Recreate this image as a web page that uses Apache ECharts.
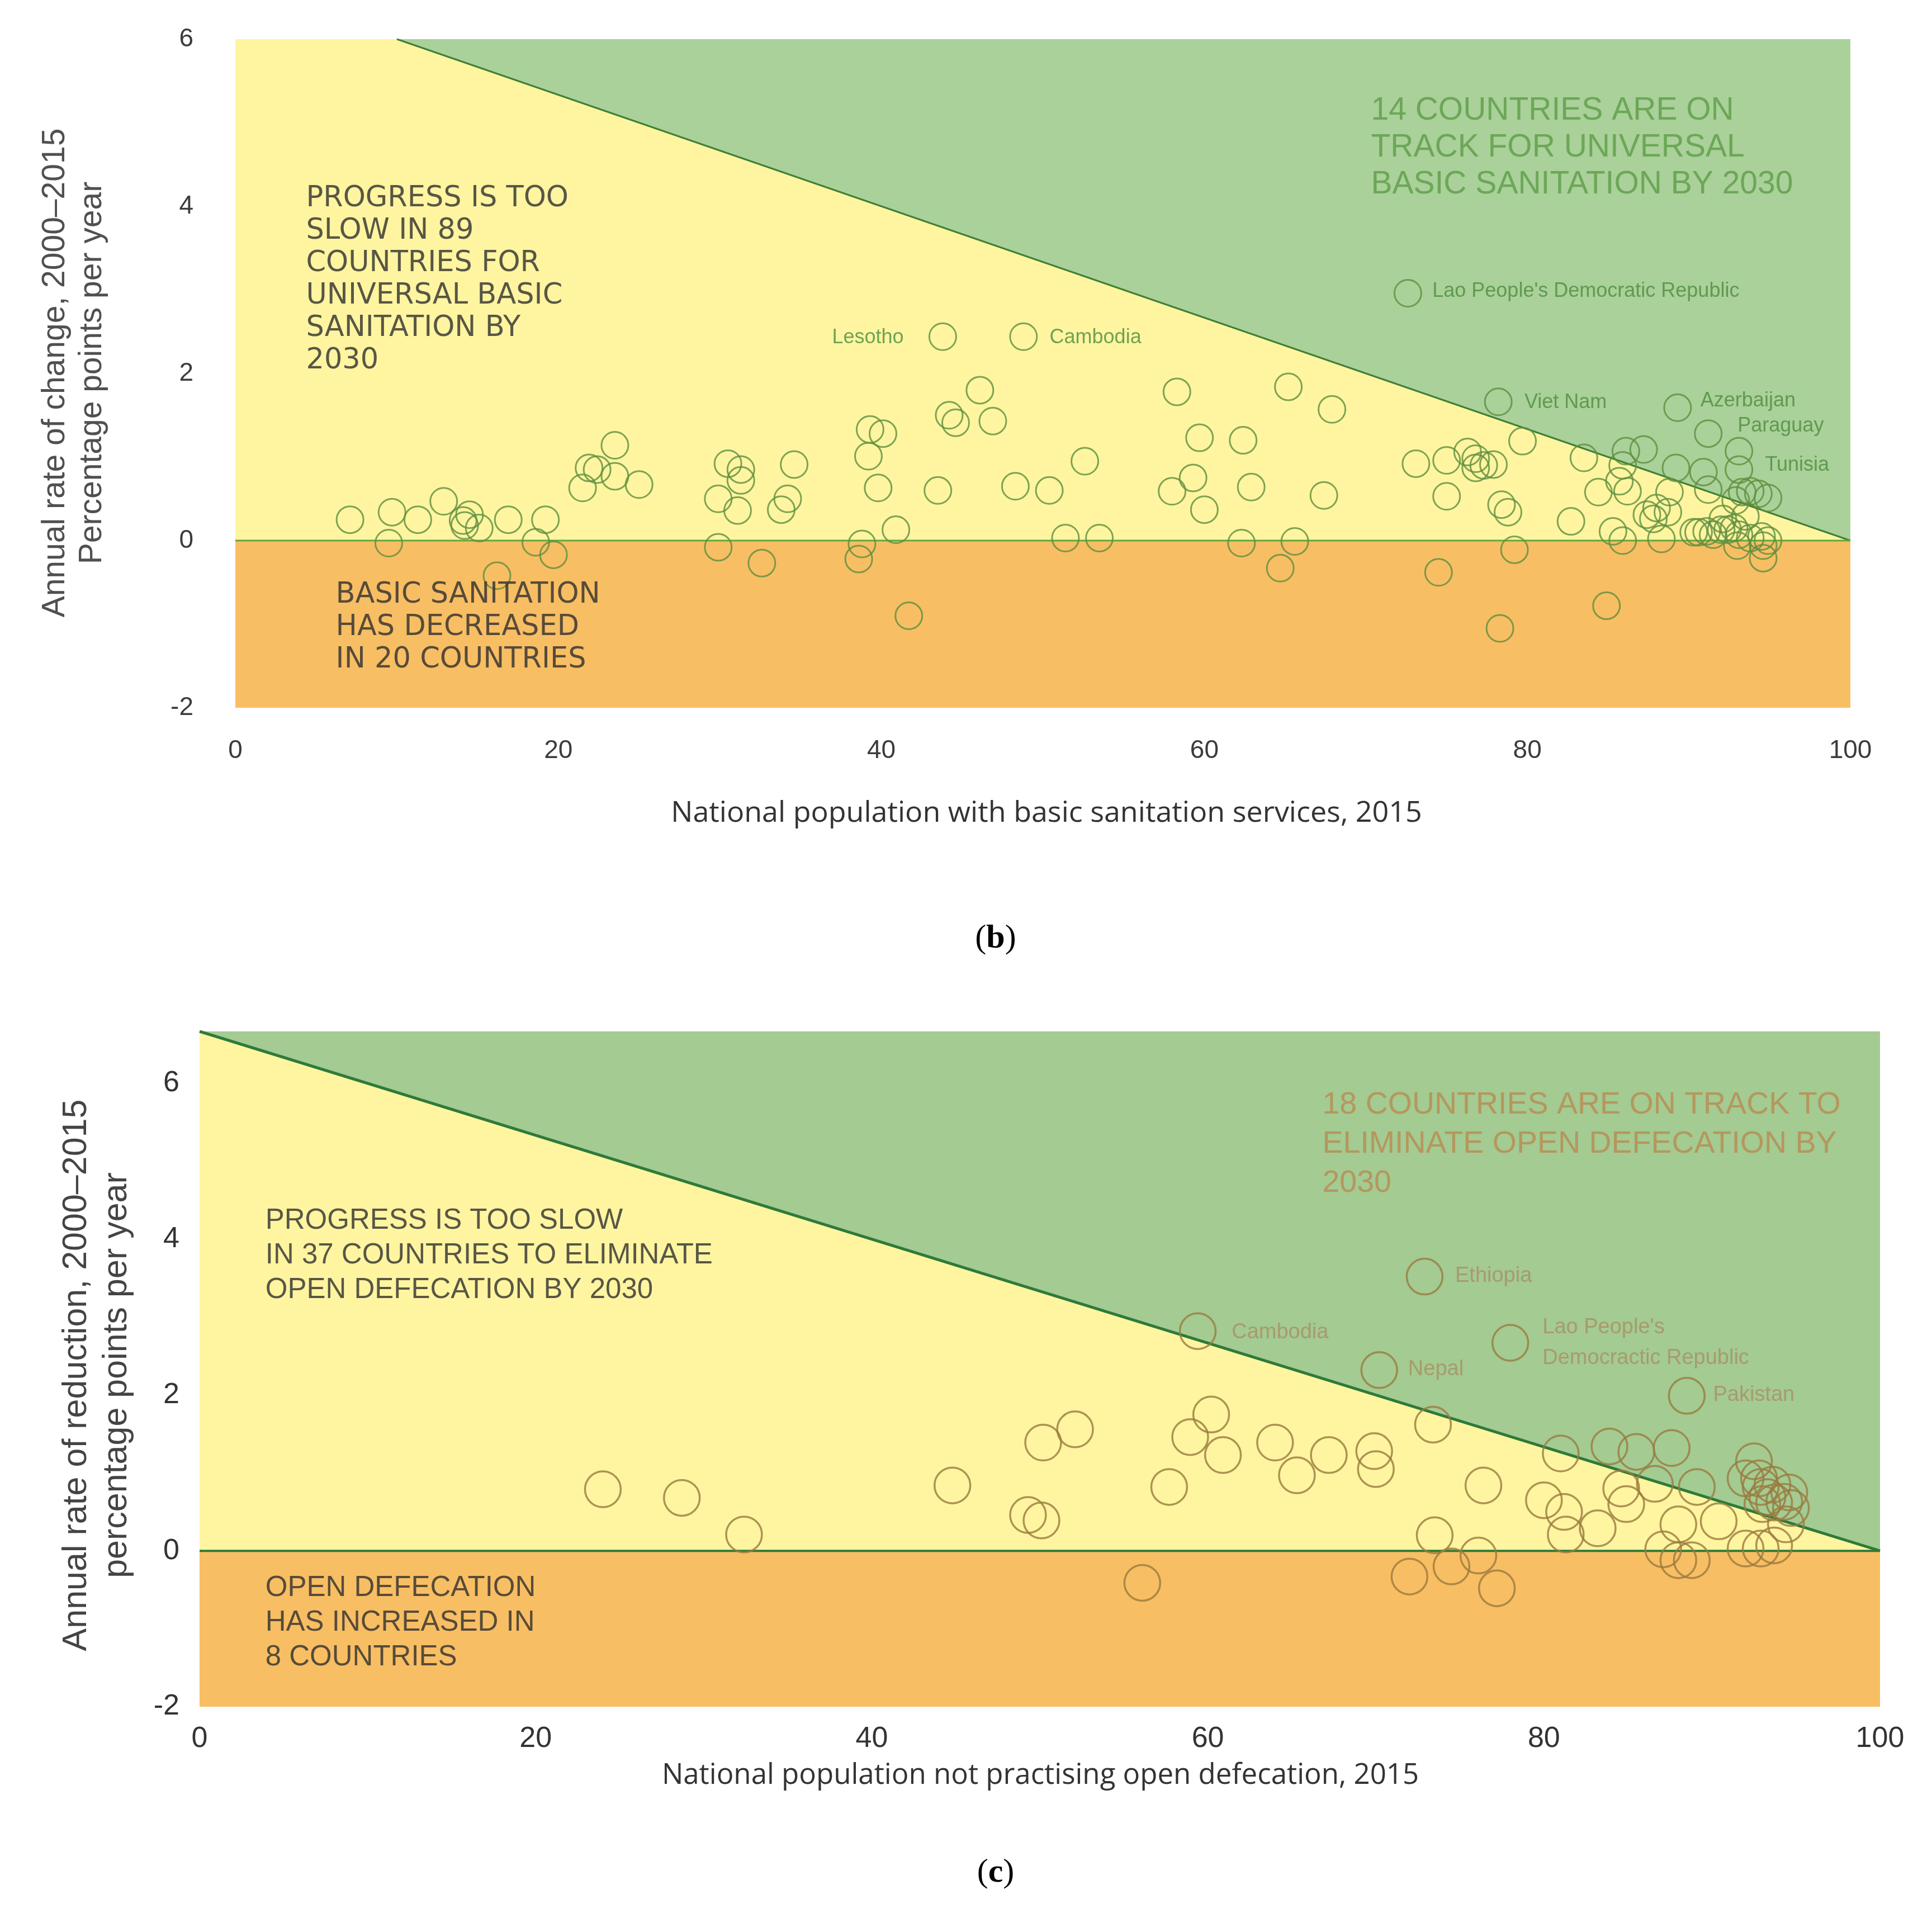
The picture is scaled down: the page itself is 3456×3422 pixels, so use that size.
<!DOCTYPE html>
<html>
<head>
<meta charset="utf-8">
<script src="https://cdn.jsdelivr.net/npm/echarts@6/dist/echarts.min.js"></script>
<style>html,body{margin:0;padding:0;background:#fff}#c{width:3456px;height:3422px}</style>
</head>
<body>
<div id="c"></div>
<script>
// ---------- DATA ----------
const xTicks = [0, 20, 40, 60, 80, 100];
const yTicks = [-2, 0, 2, 4, 6];
// (b) basic sanitation coverage 2015 (x) vs annual rate of change (y)
const basicSanitation = [
  [7.1,0.25],[9.7,0.34],[9.5,-0.03],[11.3,0.25],[12.9,0.47],[14.1,0.24],[14.5,0.31],[14.2,0.18],[15.1,0.15],
  [16.9,0.25],[19.2,0.25],[18.6,-0.02],[19.7,-0.17],[16.2,-0.42],[21.5,0.63],[21.9,0.87],[22.4,0.85],[23.5,1.14],
  [23.5,0.77],[25.0,0.67],[30.5,0.92],[31.3,0.85],[31.3,0.72],[29.9,0.5],[31.1,0.36],[34.6,0.91],[34.2,0.5],
  [33.8,0.37],[29.9,-0.08],[32.6,-0.27],[39.3,1.33],[40.1,1.28],[39.2,1.01],[39.8,0.63],[40.9,0.13],[38.8,-0.04],
  [38.6,-0.22],[41.7,-0.9],
  [43.8,2.44],[48.8,2.44],[46.1,1.8],[44.2,1.5],[44.6,1.41],[46.9,1.43],[43.5,0.6],[48.3,0.65],[50.4,0.6],
  [52.6,0.95],[51.4,0.03],[53.5,0.03],[58.3,1.78],[59.7,1.23],[62.4,1.2],[59.3,0.75],[58.0,0.59],[60.0,0.37],
  [62.9,0.64],[62.3,-0.03],[65.6,-0.01],[64.7,-0.33],[65.2,1.84],[67.9,1.57],[67.4,0.54],[73.1,0.92],[75.0,0.96],
  [75.0,0.53],[74.5,-0.38],[72.6,2.96],
  [78.2,1.66],[89.3,1.59],[91.2,1.28],[93.1,1.07],[93.1,0.85],[79.7,1.19],[76.3,1.06],[76.8,0.98],[77.3,0.9],
  [76.8,0.87],[77.9,0.91],[78.4,0.43],[78.8,0.34],[82.7,0.23],[83.5,0.99],[84.4,0.58],[86.1,1.07],[87.2,1.09],
  [85.9,0.9],[85.7,0.71],[86.2,0.59],[85.3,0.11],[85.9,0.0],[89.2,0.87],[88.8,0.58],[88.0,0.39],[87.4,0.31],
  [87.8,0.26],[88.7,0.34],[88.3,0.02],[90.9,0.82],[91.2,0.61],[93.3,0.58],[93.8,0.59],[94.3,0.56],[94.9,0.51],
  [92.9,0.48],[93.5,0.29],[92.1,0.26],[92.0,0.13],[90.3,0.1],[90.6,0.1],[91.1,0.11],[91.5,0.07],[92.4,0.13],
  [92.8,0.15],[93.1,0.07],[93.8,0.03],[94.5,0.05],[94.9,0.0],[93.0,-0.06],[94.6,-0.06],[94.6,-0.21],[79.2,-0.11],
  [84.9,-0.78],[78.3,-1.05]
];
// (c) population not practising open defecation 2015 (x) vs annual rate of reduction (y)
const openDefecation = [
  [24.0,0.79],[28.7,0.68],[32.4,0.21],[44.8,0.84],[49.3,0.46],[50.1,0.39],[50.2,1.39],[52.1,1.56],[57.7,0.82],
  [58.95,1.46],[60.2,1.75],[60.9,1.23],[59.4,2.82],[56.1,-0.41],[64.0,1.39],[65.3,0.97],[67.2,1.23],
  [72.9,3.52],[78.0,2.67],[70.2,2.32],[88.5,1.99],[73.4,1.62],[69.9,1.28],[70.0,1.05],[76.4,0.84],[73.5,0.2],
  [72.0,-0.33],[74.5,-0.2],[76.1,-0.06],[77.2,-0.48],[81.0,1.25],[80.0,0.65],[81.2,0.5],[81.3,0.21],[83.2,0.29],
  [83.9,1.34],[85.5,1.27],[87.6,1.32],[84.6,0.8],[84.9,0.6],[86.6,0.86],[89.1,0.82],[88.0,0.34],[90.4,0.38],
  [87.1,0.02],[88.0,-0.12],[88.8,-0.12],[92.5,1.15],[92.0,0.93],[92.8,0.93],[92.9,0.82],[93.3,0.69],[93.7,0.62],
  [94.3,0.63],[94.7,0.55],[94.4,0.34],[92.0,0.03],[92.9,0.03],[93.7,0.07],[93.0,0.6],[94.6,0.75],[93.6,0.85]
];
// Target line: universal coverage by 2030 -> (100 - x) / 15 per year
const targetB = [[10, 6], [100, 0]];
const targetC = [[0, 100/15], [100, 0]];
const zeroLine = [[0, 0], [100, 0]];
const yMaxB = 6, yMaxC = 100/15, yMin = -2;
// Region polygons (data coordinates)
const decreaseRegion = [[0,-2],[100,-2],[100,0],[0,0]];
const onTrackB = [[10,6],[100,6],[100,0]];
const onTrackC = [[0,100/15],[100,100/15],[100,0]];
// Annotations (text, x, y)
const notesB = [
  {text:'PROGRESS IS TOO\nSLOW IN 89\nCOUNTRIES FOR\nUNIVERSAL BASIC\nSANITATION BY\n2030', x:4.36, y:3.12, kind:'dark'},
  {text:'BASIC SANITATION\nHAS DECREASED\nIN 20 COUNTRIES', x:6.2, y:-1.04, kind:'dark'},
  {text:'14 COUNTRIES ARE ON\nTRACK FOR UNIVERSAL\nBASIC SANITATION BY 2030', x:70.3, y:4.70, kind:'big'}
];
const countriesB = [
  {text:'Lesotho', x:41.4, y:2.43, side:'left'},
  {text:'Cambodia', x:50.4, y:2.43, side:'right'},
  {text:"Lao People's Democratic Republic", x:74.1, y:2.98, side:'right'},
  {text:'Viet Nam', x:79.8, y:1.65, side:'right'},
  {text:'Azerbaijan', x:90.7, y:1.67, side:'right'},
  {text:'Paraguay', x:93.0, y:1.37, side:'right'},
  {text:'Tunisia', x:94.7, y:0.90, side:'right'}
];
const notesC = [
  {text:'18 COUNTRIES ARE ON TRACK TO\nELIMINATE OPEN DEFECATION BY\n2030', x:66.8, y:5.22, kind:'big'},
  {text:'PROGRESS IS TOO SLOW\nIN 37 COUNTRIES TO ELIMINATE\nOPEN DEFECATION BY 2030', x:3.9, y:3.79, kind:'dark'},
  {text:'OPEN DEFECATION\nHAS INCREASED IN\n8 COUNTRIES', x:3.9, y:-0.92, kind:'dark'}
];
const countriesC = [
  {text:'Cambodia', x:61.4, y:2.80},
  {text:'Nepal', x:71.9, y:2.33},
  {text:'Ethiopia', x:74.7, y:3.53},
  {text:"Lao People's\nDemocractic Republic", x:79.9, y:2.67},
  {text:'Pakistan', x:90.05, y:2.0}
];

// ---------- STYLE ----------
const C = {
  yellow:'#FFF5A0', greenB:'#A9D199', greenC:'#A3CB92', orange:'#F8BE63',
  circleB:'#5E8E3E', circleC:'#9A7B3E', lineB:'#3F7F35', zeroB:'#5FA83F', lineC:'#2E7A3A',
  labelB:'#4E8C3E', labelC:'#A98E63', bigB:'#5C9C47', bigC:'#B98A50'
};
const SANS = '"Liberation Sans", Arial, sans-serif';
const OPEN = '"Open Sans", "Liberation Sans", sans-serif';

function regionSeries(idx, pts, color){
  return {type:'custom', xAxisIndex:idx, yAxisIndex:idx, z:1, silent:true, data:[[0]],
    renderItem:(p, api)=>({type:'polygon', shape:{points:pts.map(q=>api.coord(q))}, style:{fill:color}})};
}
function lineSeries(idx, pts, color, w, z){
  return {type:'line', xAxisIndex:idx, yAxisIndex:idx, data:pts, symbol:'none', silent:true, z:z||2,
    lineStyle:{color:color, width:w}};
}
function textSeries(idx, items, styleFn){
  return {type:'scatter', xAxisIndex:idx, yAxisIndex:idx, silent:true, z:5, symbolSize:1,
    itemStyle:{color:'rgba(0,0,0,0)'},
    data:items.map(it=>{const s=styleFn(it); return {value:[it.x,it.y], label:Object.assign({show:true, formatter:it.text, distance:0}, s)};})};
}

const chart = echarts.init(document.getElementById('c'), null, {renderer:'canvas'});
const yFmt = v => (Math.abs(v/2 - Math.round(v/2)) < 1e-6 ? String(v) : '');

const option = {
  animation:false,
  backgroundColor:'#fff',
  grid:[
    {left:421, top:70, width:2889, height:1196, show:true, backgroundColor:C.yellow, borderWidth:0},
    {left:357, top:1845, width:3006, height:1208, show:true, backgroundColor:C.yellow, borderWidth:0}
  ],
  xAxis:[
    {gridIndex:0, type:'value', min:xTicks[0], max:xTicks[xTicks.length-1], interval:20,
     axisLine:{show:false}, axisTick:{show:false}, splitLine:{show:false},
     axisLabel:{margin:54, fontSize:46, color:'#3c3c3c', fontFamily:SANS}},
    {gridIndex:1, type:'value', min:xTicks[0], max:xTicks[xTicks.length-1], interval:20,
     axisLine:{show:false}, axisTick:{show:false}, splitLine:{show:false},
     axisLabel:{margin:32, fontSize:52, color:'#333', fontFamily:SANS}}
  ],
  yAxis:[
    {gridIndex:0, type:'value', min:yMin, max:yMaxB, interval:2,
     axisLine:{show:false}, axisTick:{show:false}, splitLine:{show:false},
     axisLabel:{margin:75, fontSize:46, color:'#3c3c3c', fontFamily:SANS, formatter:yFmt}},
    {gridIndex:1, type:'value', min:yMin, max:yMaxC, interval:2,
     axisLine:{show:false}, axisTick:{show:false}, splitLine:{show:false},
     axisLabel:{margin:36, fontSize:52, color:'#333', fontFamily:SANS, formatter:yFmt, showMaxLabel:false}}
  ],
  graphic:[
    {type:'text', x:99, y:667, rotation:Math.PI/2, style:{text:'Annual rate of change, 2000–2015', fontSize:57, fontFamily:SANS, fill:'#505050', align:'center', verticalAlign:'middle'}},
    {type:'text', x:165, y:667, rotation:Math.PI/2, style:{text:'Percentage points per year', fontSize:57, fontFamily:SANS, fill:'#505050', align:'center', verticalAlign:'middle'}},
    {type:'text', x:1872, y:1455, style:{text:'National population with basic sanitation services, 2015', fontSize:52, fontFamily:OPEN, fill:'#333', align:'center', verticalAlign:'middle'}},
    {type:'text', x:137, y:2460, rotation:Math.PI/2, style:{text:'Annual rate of reduction, 2000–2015', fontSize:61, fontFamily:SANS, fill:'#444', align:'center', verticalAlign:'middle'}},
    {type:'text', x:209, y:2460, rotation:Math.PI/2, style:{text:'percentage points per year', fontSize:61, fontFamily:SANS, fill:'#444', align:'center', verticalAlign:'middle'}},
    {type:'text', x:1861, y:3176, style:{text:'National population not practising open defecation, 2015', fontSize:51, fontFamily:OPEN, fill:'#333', align:'center', verticalAlign:'middle'}},
    {type:'text', x:1781, y:1679, style:{text:'({b|b})', fontSize:60, fontFamily:'"Liberation Serif", serif', fill:'#000', align:'center', verticalAlign:'middle', rich:{b:{fontSize:60, fontWeight:'bold', fontFamily:'"Liberation Serif", serif'}}}},
    {type:'text', x:1781, y:3350, style:{text:'({b|c})', fontSize:60, fontFamily:'"Liberation Serif", serif', fill:'#000', align:'center', verticalAlign:'middle', rich:{b:{fontSize:60, fontWeight:'bold', fontFamily:'"Liberation Serif", serif'}}}}
  ],
  series:[
    regionSeries(0, decreaseRegion, C.orange),
    regionSeries(0, onTrackB, C.greenB),
    lineSeries(0, targetB, C.lineB, 3),
    lineSeries(0, zeroLine, C.zeroB, 3),
    {type:'scatter', xAxisIndex:0, yAxisIndex:0, data:basicSanitation, symbol:'circle', symbolSize:48, z:3, silent:true,
     itemStyle:{color:'rgba(0,0,0,0)', borderColor:C.circleB, borderWidth:3}},
    textSeries(0, notesB, it => it.kind==='big'
      ? {position:'right', fontSize:57, lineHeight:66, color:C.bigB, fontFamily:SANS}
      : {position:'right', fontSize:51, lineHeight:58, color:'#2e2e2e', fontFamily:'"DejaVu Sans", sans-serif'}),
    textSeries(0, countriesB, it => ({position:it.side, fontSize:36, color:C.labelB, fontFamily:SANS})),

    regionSeries(1, decreaseRegion, C.orange),
    regionSeries(1, onTrackC, C.greenC),
    lineSeries(1, targetC, C.lineC, 5),
    lineSeries(1, zeroLine, C.lineC, 4),
    {type:'scatter', xAxisIndex:1, yAxisIndex:1, data:openDefecation, symbol:'circle', symbolSize:64, z:3, silent:true,
     itemStyle:{color:'rgba(0,0,0,0)', borderColor:C.circleC, borderWidth:3.5}},
    textSeries(1, notesC, it => it.kind==='big'
      ? {position:'right', fontSize:55.5, lineHeight:70, color:C.bigC, fontFamily:SANS}
      : {position:'right', fontSize:51, lineHeight:62, color:'#2e2e2e', fontFamily:SANS}),
    textSeries(1, countriesC, it => ({position:'right', fontSize:38, lineHeight:55, color:C.labelC, fontFamily:SANS}))
  ]
};
chart.setOption(option);
</script>
</body>
</html>
